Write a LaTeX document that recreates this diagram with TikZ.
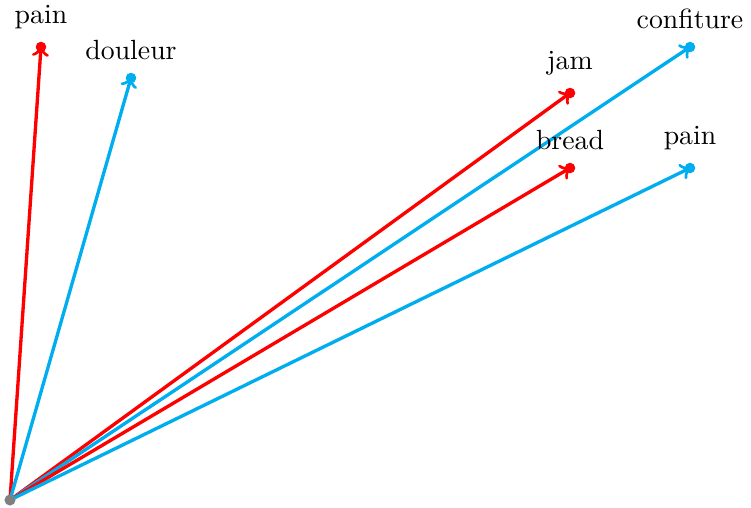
\documentclass[tikz,border=0pt]{standalone}
\usepackage{tikz}
\usepackage{xcolor}
\definecolor{myblue}{RGB}{0,174,239}
\tikzset{
  vec/.style={->, line width=1.2pt},
  tip/.style={circle, fill, inner sep=0pt, minimum size=3.8pt},
  word/.style={font=\normalsize}
}
\begin{document}
\begin{tikzpicture}[x=0.36pt, y=-0.36pt]
\useasboundingbox (0,0) rectangle (751,507);
% Origine
\coordinate (o) at (10,500);
% Punte dei vettori
\node[tip, red] (pain1) at (41,47) {};
\node[tip, myblue] (douleur) at (131,78) {};
\node[tip, red] (jam) at (570,93) {};
\node[tip, myblue] (confiture) at (690,47) {};
\node[tip, red] (bread) at (570,168) {};
\node[tip, myblue] (pain2) at (690,168) {};
% Vettori
\draw[vec, red] (o) -- (pain1.center);
\draw[vec, myblue] (o) -- (douleur.center);
\draw[vec, red] (o) -- (jam.center);
\draw[vec, myblue] (o) -- (confiture.center);
\draw[vec, red] (o) -- (bread.center);
\draw[vec, myblue] (o) -- (pain2.center);
\fill[gray] (o) circle (2pt);
% Etichette
\node[word, above=3pt] (lpain1) at (pain1) {pain};
\node[word, above=3pt] (ldouleur) at (douleur) {douleur};
\node[word, above=3pt] (ljam) at (jam) {jam};
\node[word, above=3pt] (lconfiture) at (confiture) {confiture};
\node[word, above=3pt] (lbread) at (bread) {bread};
\node[word, above=3pt] (lpain2) at (pain2) {pain};
\end{tikzpicture}
\end{document}
